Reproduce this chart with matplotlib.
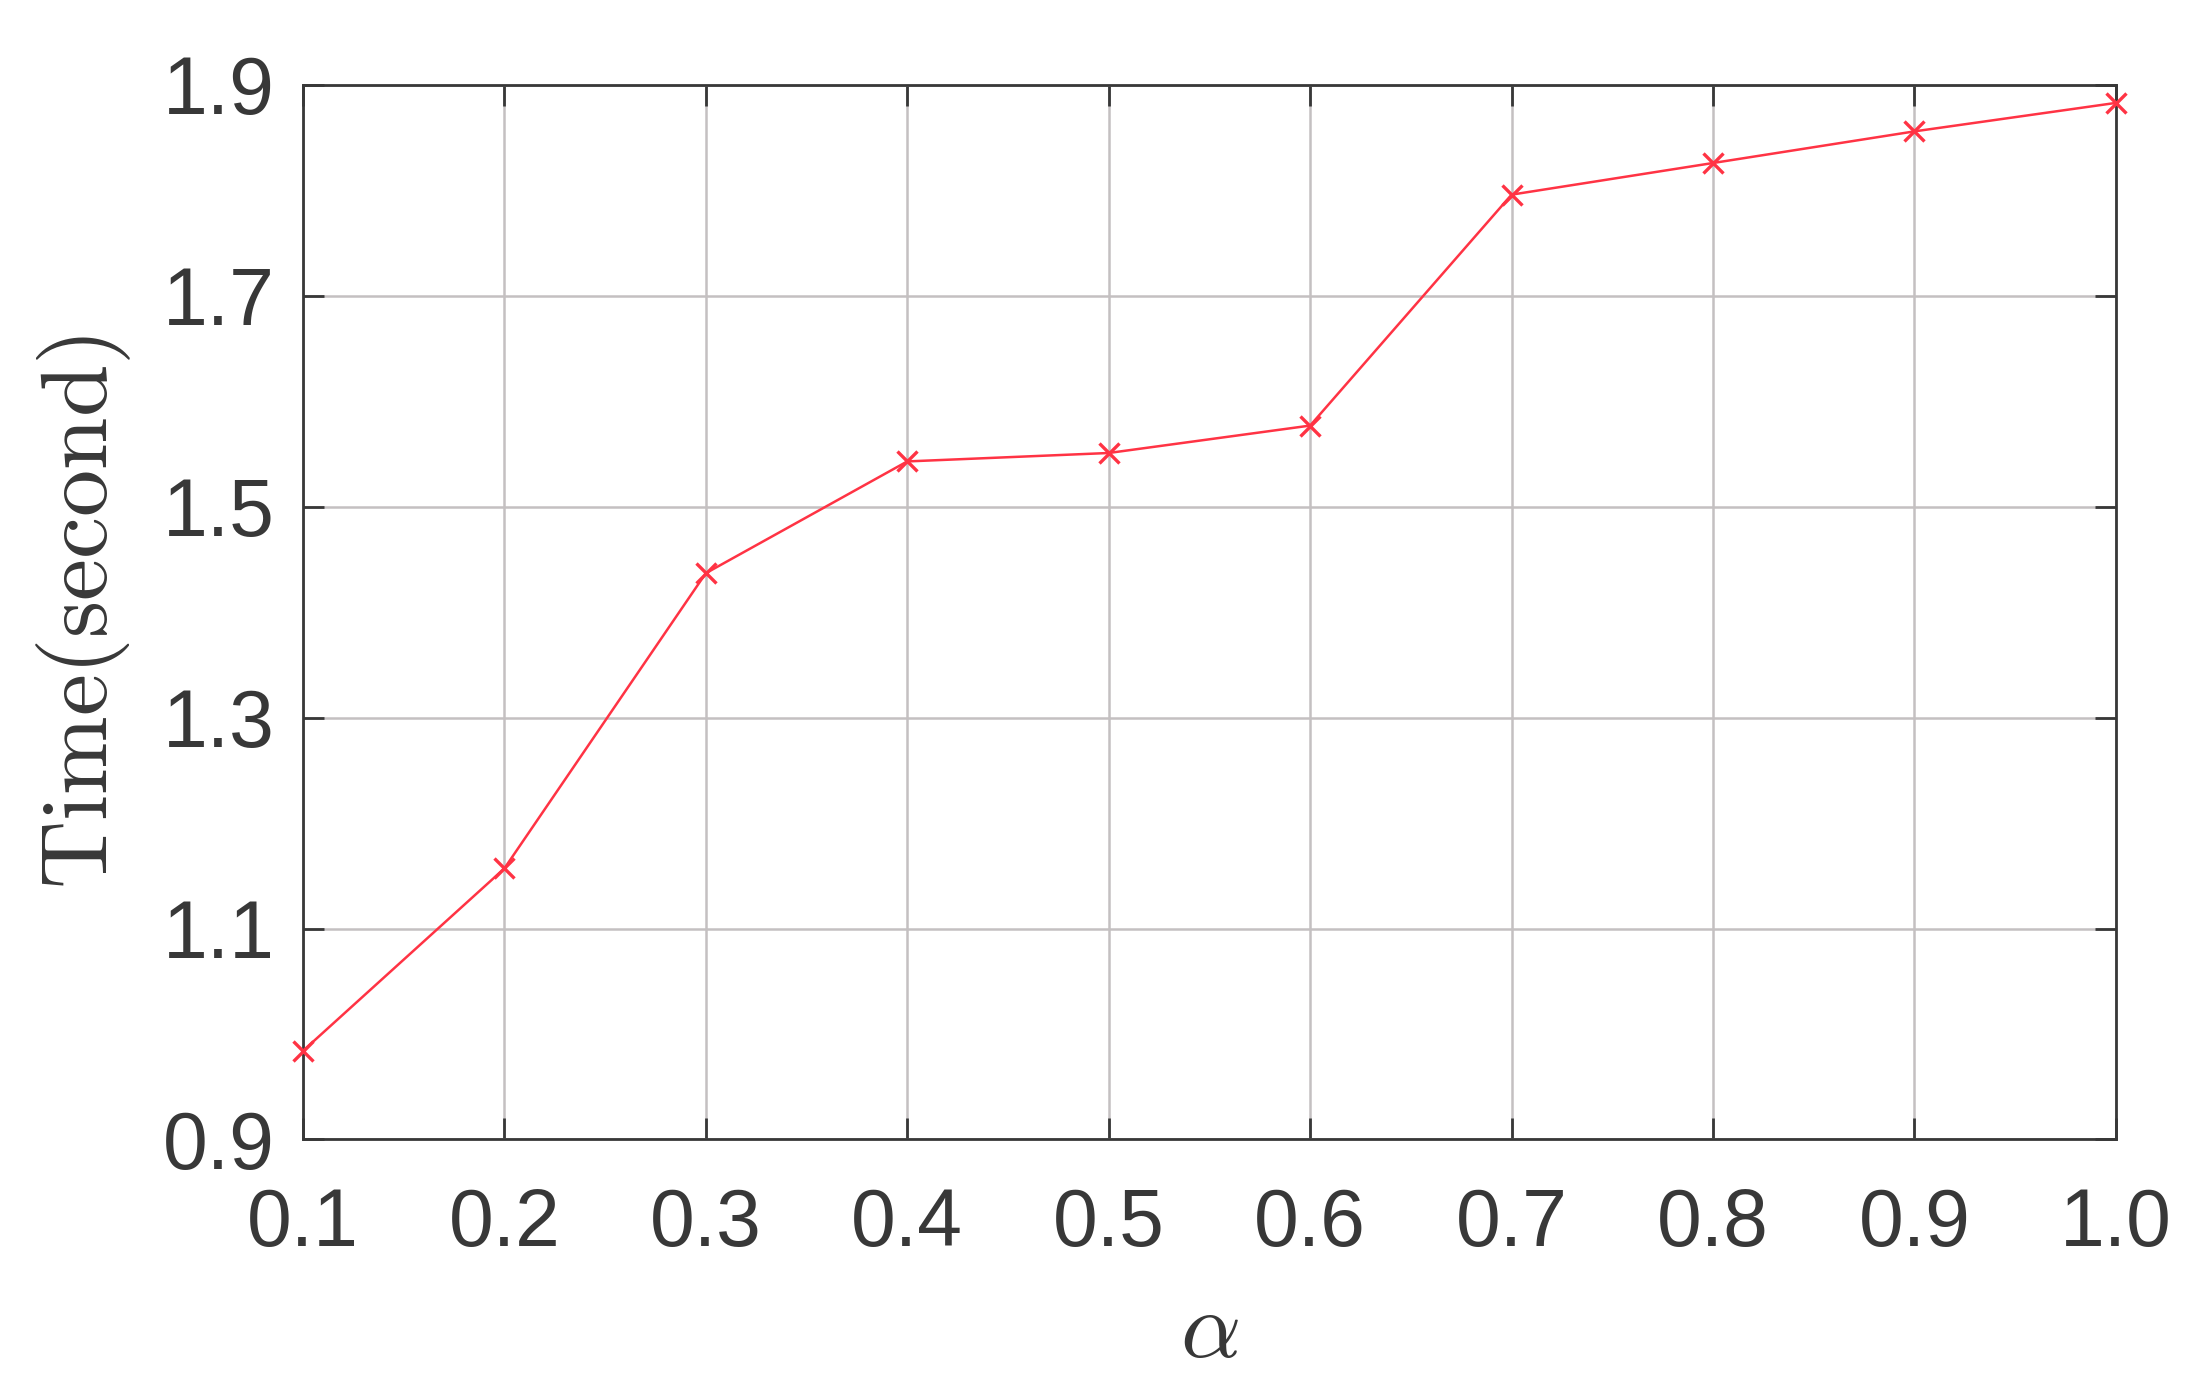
import numpy as np
import matplotlib.pyplot as plt

# alpha values and measured run time
alpha = [0.1, 0.2, 0.3, 0.4, 0.5, 0.6, 0.7, 0.8, 0.9, 1.0]
time_sec = [0.984, 1.157, 1.437, 1.543, 1.551, 1.577, 1.796, 1.826, 1.856, 1.883]
xticks = [0.1, 0.2, 0.3, 0.4, 0.5, 0.6, 0.7, 0.8, 0.9, 1.0]
yticks = [0.9, 1.1, 1.3, 1.5, 1.7, 1.9]

plt.rcParams['font.family'] = ['Liberation Sans', 'DejaVu Sans']
plt.rcParams['mathtext.fontset'] = 'cm'

axc = '#383838'
fig = plt.figure(figsize=(22.11, 13.93), dpi=100)
ax = fig.add_axes([0.137, 0.182, 0.820, 0.757])

ax.plot(alpha, time_sec, color='#ff3344', lw=1.8, marker='x',
        markersize=15, markeredgewidth=2.4, clip_on=False, zorder=3)

ax.set_xlim(0.1, 1.0)
ax.set_ylim(0.9, 1.9)
ax.set_xticks(xticks)
ax.set_xticklabels(['%.1f' % v for v in xticks])
ax.set_yticks(yticks)
ax.set_yticklabels(['%.1f' % v for v in yticks])
ax.grid(True, color='#c4c0c1', lw=1.8)
ax.set_axisbelow(True)

for s in ax.spines.values():
    s.set_color(axc)
    s.set_linewidth(2.0)
ax.tick_params(direction='in', length=15, width=2.0, colors=axc,
               top=True, right=True, labelsize=58)
ax.tick_params(axis='x', pad=34)
ax.tick_params(axis='y', pad=20)
for lab in ax.get_xticklabels() + ax.get_yticklabels():
    lab.set_color(axc)

ax.set_xlabel(r'$\alpha$', fontsize=68, color=axc, labelpad=18)
ax.set_ylabel(r'$\mathrm{Time(second)}$', fontsize=68, color=axc, labelpad=22)

fig.savefig('out.png', dpi=100, facecolor='white')
